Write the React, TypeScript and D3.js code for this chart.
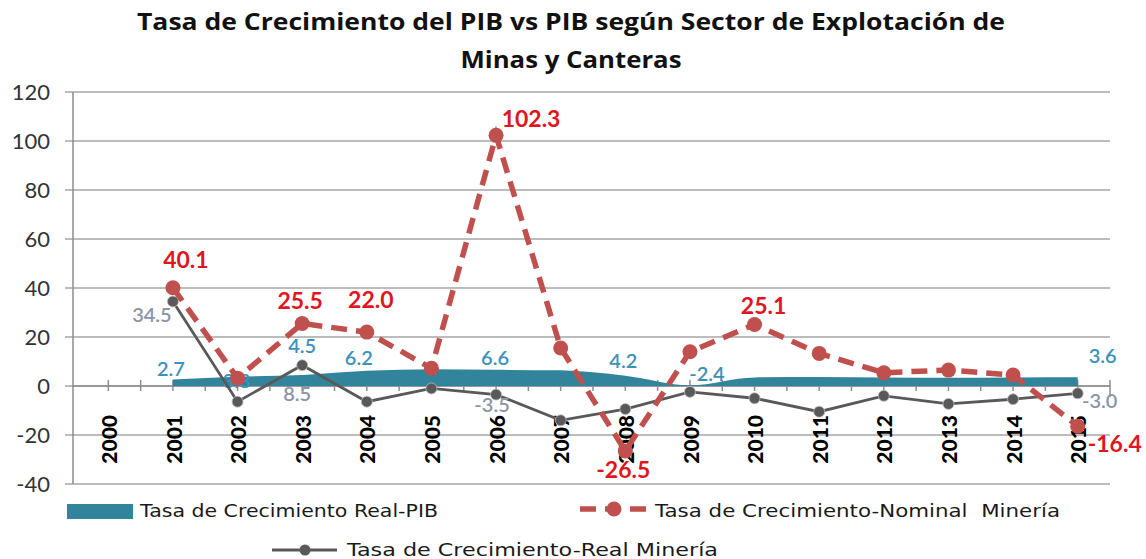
import React, { useRef, useEffect } from 'react'
import * as d3 from 'd3'

const years = ['2000', '2001', '2002', '2003', '2004', '2005', '2006', '2007', '2008', '2009', '2010', '2011', '2012', '2013', '2014', '2015']
const pibReal: (number | null)[] = [null, 2.7, 3.8, 4.5, 6.2, 6.8, 6.6, 6.4, 4.2, 0.3, 3.5, 3.7, 3.5, 3.4, 3.5, 3.6]
const nominalMineria: (number | null)[] = [null, 40.1, 3.2, 25.5, 22.0, 7.2, 102.3, 15.5, -26.5, 14.0, 25.1, 13.3, 5.4, 6.5, 4.5, -16.4]
const realMineria: (number | null)[] = [null, 34.5, -6.4, 8.5, -6.4, -1.0, -3.5, -14.0, -9.4, -2.4, -5.0, -10.5, -4.0, -7.3, -5.4, -3.0]
const yTicks = [-40, -20, 0, 20, 40, 60, 80, 100, 120]

const titleLines = ['Tasa de Crecimiento del PIB vs PIB según Sector de Explotación de', 'Minas y Canteras']
const legendNames = ['Tasa de Crecimiento Real-PIB', 'Tasa de Crecimiento-Nominal  Minería', 'Tasa de Crecimiento-Real Minería']

// which points get a data label, and where it sits relative to the point [index, dx, dy]
const pibLabelPos = [[1, -2, -3], [2, -1, 11], [3, 0, -22], [4, -8, -6], [6, -1, -5], [8, -2, -8], [15, 25, -14]]
const nominalLabelPos = [[1, 13, -20], [3, -2, -15], [4, 4, -24], [6, 35, -8], [8, -2, 27], [10, 9, -11], [15, 37, 26]]
const realLabelPos = [[1, -21, 21], [3, -5, 36], [6, -4, 17], [9, 17, -11], [15, 22, 15]]

const TEAL = '#31849b'
const RED = '#c0504d'
const GRAY = '#595959'

export default function App() {
  const svgRef = useRef<SVGSVGElement>(null)

  useEffect(() => {
    if (!svgRef.current) return
    const svg = d3.select(svgRef.current)
    svg.selectAll('*').remove()

    const W = 1146, H = 559
    svg.append('rect').attr('width', W).attr('height', H).attr('fill', '#fff')

    const x = d3.scaleBand().domain(years).range([76, 1110]).padding(0)
    const cx = (i: number) => x(years[i])! + x.bandwidth() / 2
    const y = d3.scaleLinear().domain([-40, 120]).range([484, 92])

    // Title
    const titleW = [868, 221]
    titleLines.forEach((t, i) => {
      svg.append('text')
        .attr('x', 571 - titleW[i] / 2).attr('y', 30 + i * 38)
        .attr('textLength', titleW[i]).attr('lengthAdjust', 'spacingAndGlyphs')
        .attr('font-family', '"Open Sans", sans-serif').attr('font-weight', 700)
        .attr('font-size', 23).attr('fill', '#111')
        .text(t)
    })

    // Grid + y axis
    const grid = svg.append('g')
    grid.selectAll('line')
      .data(yTicks)
      .join('line')
      .attr('x1', 65).attr('x2', 1110)
      .attr('y1', d => y(d)).attr('y2', d => y(d))
      .attr('stroke', '#a6a6a6').attr('stroke-width', 1.5)
    svg.append('line')
      .attr('x1', 73).attr('x2', 73).attr('y1', y(120)).attr('y2', y(-40))
      .attr('stroke', '#8c8c8c').attr('stroke-width', 1.5)
    svg.append('g').selectAll('text')
      .data(yTicks)
      .join('text')
      .attr('x', 50).attr('y', d => y(d)).attr('dy', '0.35em')
      .attr('text-anchor', 'end')
      .attr('font-family', 'Lato, sans-serif').attr('font-size', 22).attr('fill', '#333')
      .text(d => d)

    // Category axis at zero
    const step = x.step()
    const tickXs: number[] = []
    for (let k = 0; k < years.length * 2; k++) tickXs.push(cx(0) + k * step / 2)
    svg.append('line')
      .attr('x1', 73).attr('x2', 1110).attr('y1', y(0)).attr('y2', y(0))
      .attr('stroke', '#8c8c8c').attr('stroke-width', 1.5)
    svg.append('g').selectAll('line')
      .data(tickXs)
      .join('line')
      .attr('x1', d => d).attr('x2', d => d)
      .attr('y1', y(0) - 6).attr('y2', (d, i) => i === tickXs.length - 1 ? y(0) + 11 : y(0) + 5)
      .attr('stroke', '#8c8c8c').attr('stroke-width', 1.5)

    svg.append('g').selectAll('text')
      .data(years)
      .join('text')
      .attr('transform', (d, i) => `translate(${cx(i) + 1},415) rotate(-90)`)
      .attr('text-anchor', 'end').attr('dy', '0.36em')
      .attr('font-family', 'Lato, sans-serif').attr('font-weight', 900)
      .attr('font-size', 21).attr('fill', '#000')
      .text(d => d)

    // PIB area (smoothed)
    const pibPts = pibReal.map((v, i) => ({ i, v })).filter(d => d.v !== null) as { i: number, v: number }[]
    const area = d3.area<{ i: number, v: number }>()
      .x(d => cx(d.i)).y0(y(0)).y1(d => y(d.v))
      .curve(d3.curveMonotoneX)
    svg.append('path').attr('d', area(pibPts)!).attr('fill', TEAL)

    const labelFont = 'Lato, sans-serif'
    svg.append('g').selectAll('text')
      .data(pibLabelPos)
      .join('text')
      .attr('x', d => cx(d[0]) + d[1]).attr('y', d => y(pibReal[d[0]]!) + d[2])
      .attr('text-anchor', 'middle')
      .attr('font-family', labelFont).attr('font-weight', 600).attr('font-size', 20).attr('fill', '#3b93bd')
      .text(d => pibReal[d[0]]!.toFixed(1))

    // Real mineria line
    const realPts = realMineria.map((v, i) => ({ i, v })).filter(d => d.v !== null) as { i: number, v: number }[]
    const line = d3.line<{ i: number, v: number }>().x(d => cx(d.i)).y(d => y(d.v))
    svg.append('path').attr('d', line(realPts)!)
      .attr('fill', 'none').attr('stroke', GRAY).attr('stroke-width', 2.8)
    svg.append('g').selectAll('circle')
      .data(realPts)
      .join('circle')
      .attr('cx', d => cx(d.i)).attr('cy', d => y(d.v)).attr('r', 5.5)
      .attr('fill', GRAY).attr('stroke', '#bfbfbf').attr('stroke-width', 0.8)
    svg.append('g').selectAll('text')
      .data(realLabelPos)
      .join('text')
      .attr('x', d => cx(d[0]) + d[1]).attr('y', d => y(realMineria[d[0]]!) + d[2])
      .attr('text-anchor', 'middle')
      .attr('font-family', labelFont).attr('font-weight', 600).attr('font-size', 20)
      .attr('fill', d => d[0] === 9 ? '#3b8fb5' : '#8b95a8')
      .text(d => realMineria[d[0]]!.toFixed(1))

    // Nominal mineria dashed line
    const nomPts = nominalMineria.map((v, i) => ({ i, v })).filter(d => d.v !== null) as { i: number, v: number }[]
    svg.append('path').attr('d', line(nomPts)!)
      .attr('fill', 'none').attr('stroke', RED).attr('stroke-width', 5.5)
      .attr('stroke-dasharray', '16,9')
    svg.append('g').selectAll('circle')
      .data(nomPts)
      .join('circle')
      .attr('cx', d => cx(d.i)).attr('cy', d => y(d.v)).attr('r', 7.5)
      .attr('fill', RED)
    svg.append('g').selectAll('text')
      .data(nominalLabelPos)
      .join('text')
      .attr('x', d => cx(d[0]) + d[1]).attr('y', d => y(nominalMineria[d[0]]!) + d[2])
      .attr('text-anchor', 'middle')
      .attr('font-family', labelFont).attr('font-weight', 700).attr('font-size', 23)
      .attr('fill', '#e0161e')
      .text(d => nominalMineria[d[0]]!.toFixed(1))

    // Legend
    const legFont = '"DejaVu Sans", Verdana, sans-serif'
    const leg = svg.append('g').attr('font-family', legFont).attr('font-size', 18).attr('fill', '#1a1a1a')
    leg.append('rect').attr('x', 67).attr('y', 504).attr('width', 66).attr('height', 15).attr('fill', TEAL)
    leg.append('text').attr('x', 140).attr('y', 517)
      .attr('textLength', 298).attr('lengthAdjust', 'spacingAndGlyphs').text(legendNames[0])

    leg.append('line').attr('x1', 580).attr('x2', 648).attr('y1', 509).attr('y2', 509)
      .attr('stroke', RED).attr('stroke-width', 5.5).attr('stroke-dasharray', '16,9')
    leg.append('circle').attr('cx', 614).attr('cy', 509).attr('r', 7.5).attr('fill', RED)
    leg.append('text').attr('x', 655).attr('y', 517).attr('xml:space', 'preserve')
      .attr('textLength', 405).attr('lengthAdjust', 'spacingAndGlyphs').text(legendNames[1])

    leg.append('line').attr('x1', 272).attr('x2', 337).attr('y1', 550).attr('y2', 550)
      .attr('stroke', GRAY).attr('stroke-width', 2.8)
    leg.append('circle').attr('cx', 305).attr('cy', 550).attr('r', 5.5).attr('fill', GRAY)
    leg.append('text').attr('x', 347).attr('y', 556)
      .attr('textLength', 371).attr('lengthAdjust', 'spacingAndGlyphs').text(legendNames[2])
  }, [])

  return (
    <svg ref={svgRef} width={1146} height={559}
      style={{ position: 'absolute', left: 0, top: 0, display: 'block' }} />
  )
}
